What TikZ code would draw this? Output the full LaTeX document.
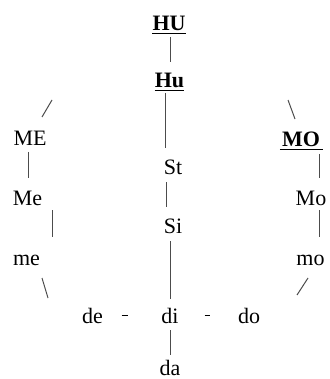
\documentclass[tikz,border=0pt]{standalone}
\usepackage{fontspec}
\setmainfont{Liberation Serif}
\usepackage{tikz}

\begin{document}
\begin{tikzpicture}[x=1pt,y=-1pt,
  every node/.style={anchor=base,inner sep=0pt,font=\fontsize{22}{26}\selectfont},
  head/.style={font=\fontsize{22}{26}\selectfont\bfseries},
  link/.style={draw=black!70,line width=1pt},
  dashlink/.style={draw=black,line width=1.7pt},
  uline/.style={draw=black,line width=1.8pt}]
 \useasboundingbox (0,0) rectangle (329,379);

 \node[head] (HU) at (169,31) {HU};
 \node[head] (Hu) at (169.5,88) {Hu};
 \node (ME) at (30,146) {ME};
 \node[head] (MO) at (301,147) {MO};
 \node (St) at (173,175) {St};
 \node (Me) at (27.5,205) {Me};
 \node (Mo) at (311,205) {Mo};
 \node (Si) at (173,233) {Si};
 \node (me) at (26.5,265) {me};
 \node (mo) at (310.5,265) {mo};
 \node (de) at (92.5,323) {de};
 \node (di) at (170,323) {di};
 \node (do) at (249,323) {do};
 \node (da) at (170,375) {da};

 % underlined heads
 \draw[uline] ([shift={(0,2.5)}]HU.base west) -- ([shift={(0,2.5)}]HU.base east);
 \draw[uline] ([shift={(0,2.5)}]Hu.base west) -- ([shift={(0,2.5)}]Hu.base east);
 \draw[uline] ([shift={(-2,2.5)}]MO.base west) -- ([shift={(3,2.5)}]MO.base east);

 % middle column
 \draw[link] ([shift={(1.5,6)}]HU.base) -- ([shift={(1,-26)}]Hu.base);
 \draw[link] ([shift={(-4.5,5)}]Hu.base) -- ([shift={(-8,-27)}]St.base);
 \draw[link] ([shift={(-7,7)}]St.base) -- ([shift={(-7,-26)}]Si.base);
 \draw[link] ([shift={(-3,8)}]Si.base) -- ([shift={(0,-24)}]di.base);
 \draw[link] ([shift={(0,7)}]di.base) -- ([shift={(0,-20)}]da.base);

 % left and right columns
 \draw[link] ([shift={(-2,6)}]ME.base) -- ([shift={(0.5,-27)}]Me.base);
 \draw[link] ([shift={(24.5,5)}]Me.base) -- ([shift={(25.5,-28)}]me.base);
 \draw[link] ([shift={(18,7)}]MO.base) -- ([shift={(8,-27)}]Mo.base);
 \draw[link] ([shift={(8,5)}]Mo.base) -- ([shift={(8.5,-28)}]mo.base);

 % slants and dashes
 \draw[link] ([shift={(-117.5,12)}]Hu.base) -- ([shift={(12,-29)}]ME.base);
 \draw[link] ([shift={(118.5,12)}]Hu.base) -- ([shift={(-6,-28)}]MO.base);
 \draw[link] ([shift={(15.5,13)}]me.base) -- ([shift={(-44.5,-25)}]de.base);
 \draw[link] ([shift={(-2.5,13)}]mo.base) -- ([shift={(48,-28)}]do.base);
 \draw[dashlink] ([shift={(29,-7.5)}]de.base) -- ([shift={(-42.5,-7.5)}]di.base);
 \draw[dashlink] ([shift={(34.5,-7.5)}]di.base) -- ([shift={(-39.5,-7.5)}]do.base);
\end{tikzpicture}
\end{document}
